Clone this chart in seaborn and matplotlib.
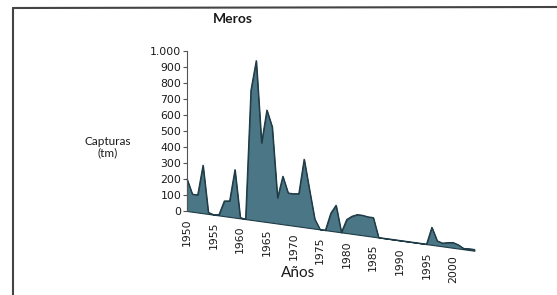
import numpy as np
import pandas as pd
import matplotlib
matplotlib.use("Agg")
import matplotlib.pyplot as plt
import matplotlib.ticker as mticker
from matplotlib.transforms import Affine2D
from matplotlib.lines import Line2D
import seaborn as sns

# Capturas anuales de meros (tm)
years = list(range(1950, 2005))
catches = [200, 110, 110, 300, 10, 0, 5, 95, 100, 300,
           5, 0, 810, 1000, 490, 700, 600, 160, 300, 200,
           200, 205, 425, 240, 60, 0, 0, 110, 165, 0,
           85, 110, 125, 125, 120, 120, 0, 0, 0, 0,
           0, 0, 0, 0, 0, 0, 110, 30, 20, 28,
           33, 23, 5, 8, 8]
tick_years = list(range(1950, 2001, 5))
y_ticks = list(range(0, 1001, 100))

df = pd.DataFrame({"Año": years, "Capturas": catches})

sns.set_style("white")
plt.rcParams['font.family'] = ['DejaVu Sans']

fig = plt.figure(figsize=(5.57, 2.95), dpi=100)
ax = fig.add_axes([187 / 557, 84 / 295, 289 / 557, 160 / 295])
ax.set_xlim(1950, 2004.3)
ax.set_ylim(0, 1000)

# the baseline of the original chart is slanted (pseudo-3D look)
shear_s = 4.6  # value units per year
shear = Affine2D(np.array([[1, 0, 0], [-shear_s, 1, shear_s * 1950], [0, 0, 1]]))
trans = shear + ax.transData

fill_color = "#4b7686"
edge_color = "#1f3b45"
ax.fill_between(df["Año"], df["Capturas"], 0, transform=trans,
                facecolor=fill_color, edgecolor=edge_color, linewidth=0.8,
                clip_on=False)
sns.lineplot(data=df, x="Año", y="Capturas", ax=ax, color=edge_color, linewidth=0.8)
for line in ax.lines:
    line.set_transform(trans)
    line.set_clip_on(False)

# x tick labels follow the slanted baseline
for yr in tick_years:
    ax.annotate(str(yr), xy=(yr, 0), xycoords=trans, xytext=(0, -5),
                textcoords="offset points", rotation=90, ha="center", va="top",
                fontsize=7.8, color="#1a1a1a", annotation_clip=False)

ax.set_xticks([])
ax.set_yticks(y_ticks)
ax.yaxis.set_major_formatter(mticker.FuncFormatter(lambda v, p: f"{int(v):,}".replace(",", ".")))
ax.tick_params(axis="y", direction="out", length=3, width=0.8, color="#555555",
               labelsize=7.8, labelcolor="#1a1a1a", pad=1, left=True)
for side in ["top", "right", "bottom"]:
    ax.spines[side].set_visible(False)
ax.spines["left"].set_color("#555555")
ax.spines["left"].set_linewidth(0.8)
ax.set_xlabel("")
ax.set_ylabel("")
ax.patch.set_alpha(0)

fig.text(233 / 557, 1 - 19 / 295, "Meros", ha="center", va="center",
         fontsize=10, fontweight="bold", family="Lato", color="#1a1a1a")
fig.text(108 / 557, 1 - 147 / 295, "Capturas\n(tm)", ha="center", va="center",
         fontsize=8.5, family="Lato", color="#1a1a1a", linespacing=1.1)
fig.text(298 / 557, 1 - 273 / 295, "Años", ha="center", va="center",
         fontsize=11, family="Lato", color="#1a1a1a")

# frame of the scanned figure
fig.add_artist(Line2D([13 / 557, 1], [1 - 8 / 295, 1 - 7 / 295], transform=fig.transFigure,
                      color="#444444", linewidth=1.5))
fig.add_artist(Line2D([13 / 557, 13 / 557], [0, 1 - 8 / 295], transform=fig.transFigure,
                      color="#444444", linewidth=1.5))

fig.savefig("out.png", dpi=100)
